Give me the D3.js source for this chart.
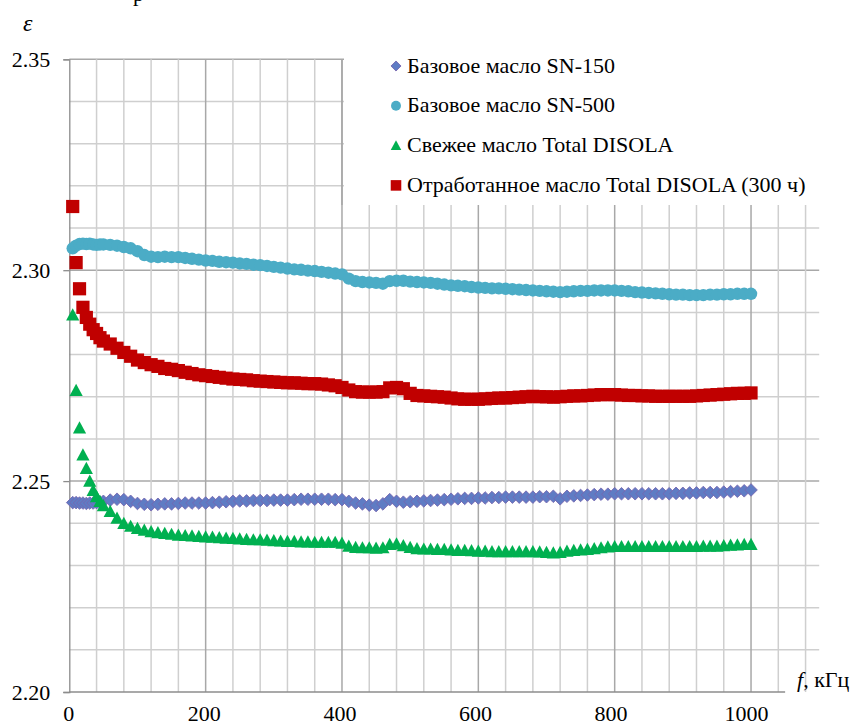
<!DOCTYPE html>
<html>
<head>
<meta charset="utf-8">
<script src="https://cdn.jsdelivr.net/npm/d3@7"></script>
<style>
  html, body { margin: 0; padding: 0; background: #fff; }
  svg { display: block; }
</style>
</head>
<body>
<svg id="chart" width="855" height="726"></svg>
<script>
// Frequency, kHz
const freq = [5,10,15,20,25,30,35,40,45,50,
  60,70,80,90,100,110,120,130,140,150,
  160,170,180,190,200,210,220,230,240,250,
  260,270,280,290,300,310,320,330,340,350,
  360,370,380,390,400,410,420,430,440,450,
  460,470,480,490,500,510,520,530,540,550,
  560,570,580,590,600,610,620,630,640,650,
  660,670,680,690,700,710,720,730,740,750,
  760,770,780,790,800,810,820,830,840,850,
  860,870,880,890,900,910,920,930,940,950,
  960,970,980,990,1000];

// Permittivity of each oil
const epsSN150 = [2.2449,2.2449,2.2448,2.2448,2.2447,2.2448,2.2448,2.2449,2.2450,2.2452,
  2.2455,2.2457,2.2456,2.2452,2.2447,2.2445,2.2444,2.2445,2.2446,2.2446,
  2.2447,2.2448,2.2448,2.2448,2.2448,2.2449,2.2450,2.2451,2.2452,2.2453,
  2.2453,2.2454,2.2454,2.2454,2.2455,2.2455,2.2455,2.2456,2.2457,2.2457,
  2.2457,2.2457,2.2457,2.2456,2.2456,2.2452,2.2448,2.2446,2.2443,2.2442,
  2.2446,2.2456,2.2452,2.2450,2.2451,2.2452,2.2453,2.2454,2.2455,2.2456,
  2.2457,2.2458,2.2459,2.2459,2.2460,2.2460,2.2461,2.2461,2.2462,2.2462,
  2.2462,2.2462,2.2462,2.2463,2.2463,2.2464,2.2458,2.2464,2.2465,2.2466,
  2.2467,2.2468,2.2469,2.2469,2.2470,2.2470,2.2470,2.2470,2.2470,2.2470,
  2.2470,2.2470,2.2470,2.2471,2.2471,2.2472,2.2472,2.2473,2.2473,2.2473,
  2.2474,2.2475,2.2476,2.2477,2.2479];

const epsSN500 = [2.3052,2.3058,2.3062,2.3063,2.3062,2.3063,2.3061,2.3060,2.3061,2.3061,
  2.3060,2.3058,2.3055,2.3052,2.3045,2.3036,2.3032,2.3031,2.3032,2.3031,
  2.3031,2.3029,2.3027,2.3025,2.3023,2.3022,2.3020,2.3019,2.3018,2.3016,
  2.3015,2.3013,2.3012,2.3010,2.3008,2.3006,2.3004,2.3002,2.3001,2.2999,
  2.2998,2.2996,2.2994,2.2992,2.2990,2.2980,2.2974,2.2972,2.2971,2.2970,
  2.2968,2.2974,2.2975,2.2975,2.2973,2.2972,2.2971,2.2970,2.2968,2.2966,
  2.2964,2.2963,2.2962,2.2960,2.2959,2.2958,2.2957,2.2957,2.2956,2.2955,
  2.2954,2.2953,2.2952,2.2951,2.2950,2.2949,2.2948,2.2949,2.2950,2.2951,
  2.2951,2.2952,2.2952,2.2952,2.2952,2.2951,2.2950,2.2948,2.2947,2.2946,
  2.2945,2.2944,2.2943,2.2942,2.2942,2.2941,2.2941,2.2941,2.2942,2.2942,
  2.2943,2.2943,2.2944,2.2944,2.2944];

const epsFresh = [2.2894,2.2715,2.2626,2.2562,2.2530,2.2500,2.2478,2.2463,2.2452,2.2442,
  2.2428,2.2412,2.2400,2.2393,2.2388,2.2384,2.2380,2.2378,2.2376,2.2374,
  2.2372,2.2371,2.2370,2.2369,2.2368,2.2367,2.2366,2.2365,2.2364,2.2363,
  2.2362,2.2361,2.2361,2.2360,2.2359,2.2358,2.2357,2.2357,2.2356,2.2356,
  2.2355,2.2355,2.2355,2.2355,2.2353,2.2346,2.2343,2.2342,2.2342,2.2341,
  2.2342,2.2350,2.2351,2.2347,2.2343,2.2340,2.2339,2.2339,2.2338,2.2338,
  2.2337,2.2336,2.2336,2.2335,2.2334,2.2334,2.2333,2.2333,2.2333,2.2333,
  2.2333,2.2333,2.2333,2.2332,2.2331,2.2330,2.2331,2.2334,2.2336,2.2337,
  2.2338,2.2340,2.2342,2.2344,2.2345,2.2345,2.2345,2.2345,2.2345,2.2345,
  2.2345,2.2345,2.2345,2.2345,2.2345,2.2345,2.2345,2.2346,2.2346,2.2346,
  2.2347,2.2348,2.2349,2.2350,2.2350];

const epsUsed = [2.3151,2.3018,2.2956,2.2912,2.2888,2.2872,2.2859,2.2850,2.2840,2.2832,
  2.2825,2.2815,2.2805,2.2796,2.2787,2.2781,2.2776,2.2772,2.2767,2.2765,
  2.2762,2.2758,2.2755,2.2752,2.2750,2.2748,2.2746,2.2744,2.2742,2.2741,
  2.2740,2.2738,2.2737,2.2736,2.2735,2.2734,2.2733,2.2733,2.2732,2.2731,
  2.2731,2.2730,2.2728,2.2726,2.2722,2.2716,2.2712,2.2711,2.2711,2.2711,
  2.2712,2.2721,2.2722,2.2719,2.2708,2.2703,2.2702,2.2701,2.2700,2.2699,
  2.2697,2.2695,2.2694,2.2694,2.2694,2.2695,2.2696,2.2697,2.2697,2.2698,
  2.2699,2.2700,2.2701,2.2700,2.2700,2.2699,2.2700,2.2701,2.2702,2.2702,
  2.2703,2.2704,2.2705,2.2705,2.2705,2.2704,2.2703,2.2703,2.2702,2.2702,
  2.2701,2.2701,2.2701,2.2701,2.2701,2.2701,2.2702,2.2703,2.2704,2.2705,
  2.2706,2.2707,2.2708,2.2708,2.2709];

const seriesNames = [
  "Базовое масло SN-150",
  "Базовое масло SN-500",
  "Свежее масло Total DISOLA",
  "Отработанное масло Total DISOLA (300 ч)"
];
const seriesValues = [epsSN150, epsSN500, epsFresh, epsUsed];

const yTickValues = [2.20, 2.25, 2.30, 2.35];
const xTickValues = [0, 200, 400, 600, 800, 1000];

const SERIF = "'Liberation Serif', Tinos, 'Times New Roman', 'DejaVu Serif', 'Noto Serif', serif";
const FS = 22;

// ---- scales ----
const x = d3.scaleLinear().domain([0, 1100]).range([69.3, 819.2]);
const y = d3.scaleLinear().domain([2.20, 2.35]).range([692, 59.3]);

const svg = d3.select("#chart");

const styles = [
  { fill: "#5f7cc4", stroke: "#7767b0", sw: 0.9 },
  { fill: "#4bacc6" },
  { fill: "#00b050" },
  { fill: "#c00000" }
];

function drawMarker(g, k, cx, cy, sc) {
  const s = styles[k];
  sc = sc || 1;
  if (k === 0) {
    const r = 6.3 * sc;
    g.append("path").attr("d", `M${cx},${cy - r}L${cx + r},${cy}L${cx},${cy + r}L${cx - r},${cy}Z`)
      .attr("fill", s.fill).attr("stroke", s.stroke).attr("stroke-width", s.sw);
  } else if (k === 1) {
    g.append("circle").attr("cx", cx).attr("cy", cy).attr("r", 6.2 * sc).attr("fill", s.fill);
  } else if (k === 2) {
    const w = 6.6 * sc, t = 6.6 * sc, b = 5.6 * sc;
    g.append("path").attr("d", `M${cx},${cy - t}L${cx + w},${cy + b}L${cx - w},${cy + b}Z`)
      .attr("fill", s.fill);
  } else {
    const h = 6.6 * sc;
    g.append("rect").attr("x", cx - h).attr("y", cy - h)
      .attr("width", 2 * h).attr("height", 2 * h).attr("fill", s.fill);
  }
}

// ---- grid ----
const grid = svg.append("g");
const hVals = d3.range(221, 236).map(v => v / 100);
grid.selectAll("line.h").data(hVals).enter().append("line")
  .attr("x1", x(0)).attr("x2", x(1100))
  .attr("y1", d => y(d)).attr("y2", d => y(d))
  .attr("stroke", d => Math.round(d * 100) % 5 === 0 ? "#a8a8a8" : "#cfcfcf")
  .attr("stroke-width", 1.5);
const vVals = d3.range(40, 1081, 40);
grid.selectAll("line.v").data(vVals).enter().append("line")
  .attr("x1", d => x(d)).attr("x2", d => x(d))
  .attr("y1", y(2.35)).attr("y2", y(2.20))
  .attr("stroke", d => d % 200 === 0 ? "#a8a8a8" : "#cfcfcf")
  .attr("stroke-width", 1.5);

// ---- axes ----
const yAxis = d3.axisLeft(y).tickValues(yTickValues).tickSize(6)
  .tickFormat(d3.format(".2f"));
const gy = svg.append("g").attr("transform", `translate(${x(0)},0)`).call(yAxis)
  .attr("font-family", SERIF).attr("font-size", FS);
gy.select(".domain").attr("stroke", "#8c8c8c").attr("stroke-width", 1.3);
gy.selectAll(".tick line").attr("stroke", "#8c8c8c").attr("stroke-width", 1.3);
gy.selectAll(".tick text").attr("x", -19).attr("dy", "0.34em").attr("fill", "#000");

const xAxis = d3.axisBottom(x).tickValues(xTickValues).tickSize(0).tickFormat(d3.format("d"));
const gx = svg.append("g").attr("transform", `translate(0,${y(2.20)})`).call(xAxis)
  .attr("font-family", SERIF).attr("font-size", FS);
gx.select(".domain").attr("stroke", "#8c8c8c").attr("stroke-width", 1.3)
  .attr("d", `M${x(0)},0H${x(1050)}`);
gx.selectAll(".tick text").attr("y", 29).attr("dy", 0).attr("fill", "#000")
  .attr("x", d => -1 - d * 0.004);

// ---- series ----
seriesValues.forEach((vals, k) => {
  const g = svg.append("g");
  vals.forEach((v, i) => drawMarker(g, k, x(freq[i]), y(v)));
});

// ---- legend ----
svg.append("rect").attr("x", 344).attr("y", 0).attr("width", 511).attr("height", 205)
  .attr("fill", "#fff");
// 400 kHz grid line runs up along the legend edge
svg.append("line").attr("x1", x(400)).attr("x2", x(400))
  .attr("y1", y(2.35)).attr("y2", 205).attr("stroke", "#a8a8a8").attr("stroke-width", 1.5);

const leg = svg.append("g").attr("font-family", SERIF).attr("font-size", FS);
seriesNames.forEach((name, k) => {
  const base = 72.5 + k * 39.8;
  drawMarker(leg, k, 396, base - 6.5, 0.8);
  leg.append("text").attr("x", 407).attr("y", base).attr("fill", "#000").text(name);
});

// ---- axis titles ----
svg.append("text").attr("x", 23).attr("y", 31).attr("font-family", SERIF)
  .attr("font-size", 24).attr("font-style", "italic").text("ε");
const ft = svg.append("text").attr("x", 797).attr("y", 687)
  .attr("font-family", SERIF).attr("font-size", FS);
ft.append("tspan").attr("font-style", "italic").text("f");
ft.append("tspan").text(", кГц");

// tail of the glyph from the line of text above the figure
svg.append("text").attr("x", 133).attr("y", 0.5).attr("font-family", SERIF)
  .attr("font-size", FS).text("р");
</script>
</body>
</html>
